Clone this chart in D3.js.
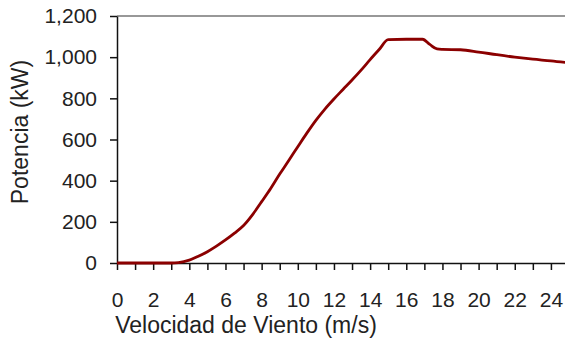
<!DOCTYPE html>
<html>
<head>
<meta charset="utf-8">
<script src="https://cdn.jsdelivr.net/npm/d3@7"></script>
<style>
  html, body { margin: 0; padding: 0; background: #fff; }
  svg { display: block; }
  text { font-family: "Liberation Sans", Arial, sans-serif; fill: #222; }
</style>
</head>
<body>
<svg id="chart" width="565" height="343"></svg>
<script>
// Wind turbine power curve: speed (m/s) vs. output power (kW)
const windSpeed = [0, 1, 2, 3, 3.4, 4, 4.5, 5, 5.5, 6, 6.5, 7, 7.5, 8, 8.5, 9, 9.5, 10,
  10.5, 11, 11.5, 12, 12.5, 13, 13.5, 14, 14.5, 15, 16, 16.9, 17.3, 17.7, 18, 19, 20, 21, 22, 23, 24, 25];
const power = [0, 0, 0, 0, 2, 14, 33, 55, 82, 112, 145, 182, 235, 298, 362, 432, 498, 565,
  631, 693, 748, 797, 843, 889, 937, 988, 1037, 1085, 1087, 1087, 1062, 1040, 1038, 1036, 1025, 1012, 1000, 990, 982, 972];
const xTickValues = d3.range(0, 26, 1);
const xLabelValues = d3.range(0, 25, 2);
const yTickValues = [0, 200, 400, 600, 800, 1000, 1200];

const svg = d3.select("#chart");
const plotLeft = 117, plotTop = 16, plotBottom = 263, plotRight = 569;

const x = d3.scaleLinear().domain([0, 25]).range([plotLeft, plotRight]);
const y = d3.scaleLinear().domain([0, 1200]).range([plotBottom, plotTop]);

// top frame line
svg.append("line")
  .attr("x1", plotLeft).attr("x2", plotRight)
  .attr("y1", plotTop).attr("y2", plotTop)
  .attr("stroke", "#333").attr("stroke-width", 1.2);

// x axis
const xAxis = svg.append("g")
  .attr("transform", `translate(0,${plotBottom})`)
  .call(d3.axisBottom(x).tickValues(xTickValues).tickSize(7).tickSizeOuter(0)
    .tickFormat(d => xLabelValues.includes(d) ? d : ""));
xAxis.select(".domain").attr("stroke", "#111").attr("stroke-width", 1.5);
xAxis.selectAll(".tick line").attr("stroke", "#111").attr("stroke-width", 1.5);
xAxis.selectAll(".tick text").attr("font-size", 21).attr("y", 29).attr("dy", "0.71em")
  .style("font-family", "'Liberation Sans', Arial, sans-serif").attr("fill", "#222");

// y axis
const yAxis = svg.append("g")
  .attr("transform", `translate(${plotLeft},0)`)
  .call(d3.axisLeft(y).tickValues(yTickValues).tickSize(7).tickSizeOuter(0)
    .tickFormat(d3.format(",")));
yAxis.select(".domain").attr("stroke", "#111").attr("stroke-width", 1.5);
yAxis.selectAll(".tick line").attr("stroke", "#111").attr("stroke-width", 1.5);
yAxis.selectAll(".tick text").attr("font-size", 21).attr("x", -20)
  .style("font-family", "'Liberation Sans', Arial, sans-serif").attr("fill", "#222");

// power curve
const pts = windSpeed.map((s, i) => [s, power[i]]);
svg.append("path")
  .datum(pts)
  .attr("fill", "none")
  .attr("stroke", "#8b0000")
  .attr("stroke-width", 2.8)
  .attr("stroke-linejoin", "round")
  .attr("d", d3.line().curve(d3.curveMonotoneX).x(d => x(d[0])).y(d => y(d[1])));

// axis titles
svg.append("text")
  .attr("x", 246).attr("y", 333)
  .attr("text-anchor", "middle")
  .attr("font-size", 23)
  .text("Velocidad de Viento (m/s)");

svg.append("text")
  .attr("transform", "translate(28,132) rotate(-90)")
  .attr("text-anchor", "middle")
  .attr("font-size", 23)
  .text("Potencia (kW)");
</script>
</body>
</html>
